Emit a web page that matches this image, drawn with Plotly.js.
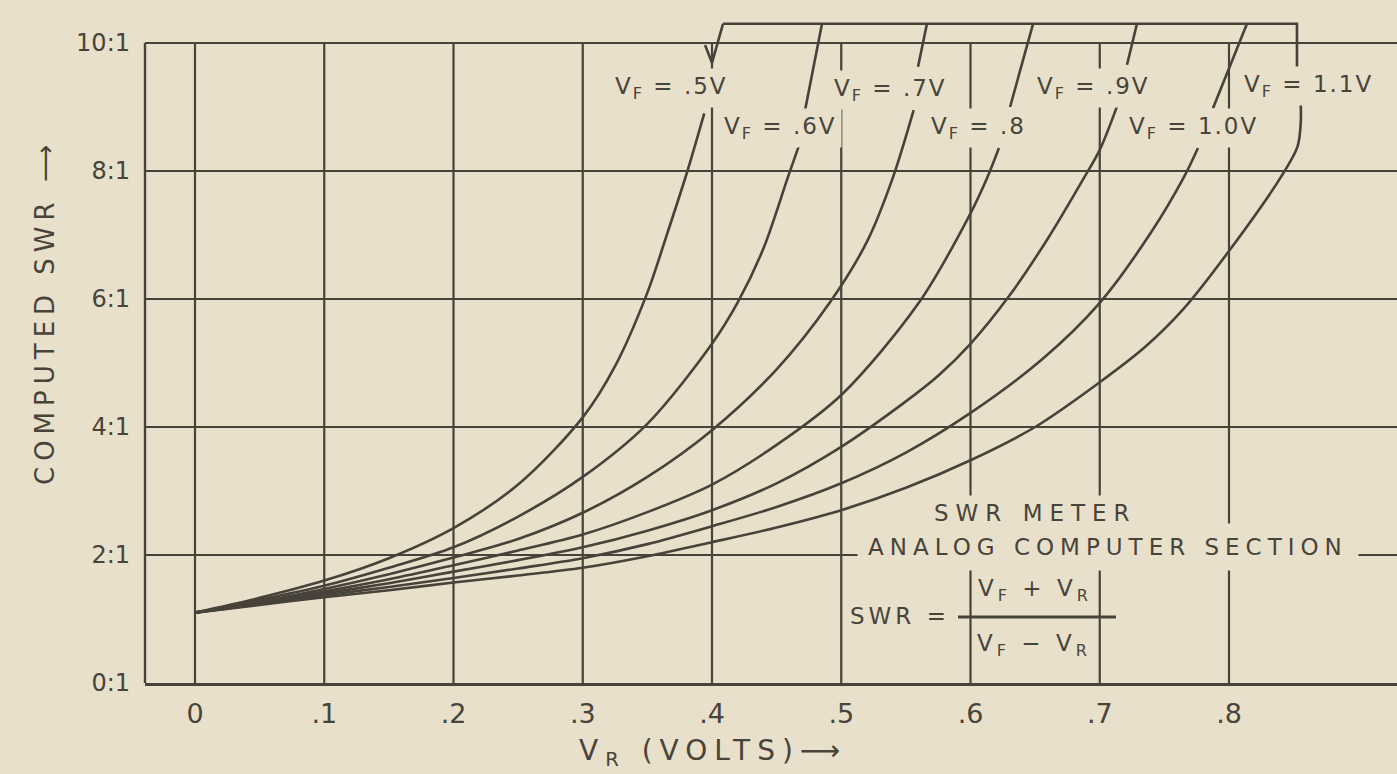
<!DOCTYPE html>
<html><head><meta charset="utf-8">
<script src="https://cdn.plot.ly/plotly-3.0.1.min.js"></script>
<style>
html,body{margin:0;padding:0;background:#e8e0ca;}
#chart{width:1397px;height:774px;}
</style></head><body><div id="chart"></div>
<script>
// ---------- data ----------
const xTickVals = [0, 0.1, 0.2, 0.3, 0.4, 0.5, 0.6, 0.7, 0.8];
const xTickText = ['0', '.1', '.2', '.3', '.4', '.5', '.6', '.7', '.8'];
const yTickVals = [0, 2, 4, 6, 8, 10];
const yTickText = ['0:1', '2:1', '4:1', '6:1', '8:1', '10:1'];
const vfLabels = ['.5V', '.6V', '.7V', '.8', '.9V', '1.0V', '1.1V'];

const vr_05 = [0, 0.05, 0.1, 0.15, 0.2, 0.25, 0.3, 0.325, 0.35, 0.365, 0.381, 0.394];
const swr_05 = [1.1, 1.33, 1.6, 1.95, 2.42, 3.1, 4.15, 4.95, 6.1, 7.0, 8.0, 8.9];
const vr_06 = [0, 0.05, 0.1, 0.15, 0.2, 0.25, 0.3, 0.35, 0.4, 0.42, 0.44, 0.459, 0.467];
const swr_06 = [1.1, 1.3, 1.52, 1.8, 2.12, 2.6, 3.22, 4.05, 5.3, 5.95, 6.8, 7.92, 8.38];
const vr_07 = [0, 0.05, 0.1, 0.15, 0.2, 0.25, 0.3, 0.35, 0.4, 0.45, 0.491, 0.52, 0.54, 0.556];
const swr_07 = [1.1, 1.27, 1.47, 1.7, 1.96, 2.25, 2.66, 3.22, 3.95, 4.9, 5.94, 6.9, 7.9, 8.95];
const vr_08 = [0, 0.05, 0.1, 0.15, 0.2, 0.25, 0.3, 0.35, 0.4, 0.45, 0.5, 0.56, 0.599, 0.613, 0.622];
const swr_08 = [1.1, 1.25, 1.43, 1.62, 1.84, 2.07, 2.32, 2.67, 3.1, 3.72, 4.5, 5.94, 7.3, 7.9, 8.36];
const vr_09 = [0, 0.05, 0.1, 0.15, 0.2, 0.25, 0.3, 0.35, 0.4, 0.45, 0.5, 0.55, 0.575, 0.6, 0.63, 0.66, 0.688, 0.7, 0.715];
const swr_09 = [1.1, 1.24, 1.4, 1.56, 1.74, 1.92, 2.12, 2.38, 2.7, 3.12, 3.69, 4.4, 4.8, 5.3, 6.05, 6.95, 7.9, 8.33, 9.1];
const vr_10 = [0, 0.05, 0.1, 0.15, 0.2, 0.25, 0.3, 0.35, 0.4, 0.45, 0.5, 0.55, 0.6, 0.655, 0.7, 0.74, 0.765, 0.776];
const swr_10 = [1.1, 1.23, 1.37, 1.5, 1.64, 1.79, 1.95, 2.17, 2.45, 2.75, 3.12, 3.6, 4.22, 5.05, 5.94, 7.05, 7.9, 8.36];
const vr_11 = [0, 0.05, 0.1, 0.15, 0.2, 0.25, 0.3, 0.35, 0.4, 0.45, 0.5, 0.55, 0.6, 0.65, 0.7, 0.735, 0.765, 0.8, 0.84, 0.853, 0.8555, 0.8555];
const swr_11 = [1.1, 1.22, 1.34, 1.45, 1.57, 1.68, 1.8, 1.98, 2.2, 2.43, 2.7, 3.05, 3.48, 4.0, 4.7, 5.25, 5.85, 6.75, 7.9, 8.38, 8.75, 9.05];

// leader strokes above the labels, and the top bracket
const lead_05_x = [0.3946, 0.4, 0.4085];   const lead_05_y = [9.97, 9.69, 10.3];
const lead_06_x = [0.472, 0.4851];         const lead_06_y = [8.95, 10.3];
const lead_07_x = [0.5594, 0.5663];        const lead_07_y = [9.63, 10.3];
const lead_08_x = [0.6306, 0.6484];        const lead_08_y = [9.0, 10.3];
const lead_09_x = [0.7211, 0.7288];        const lead_09_y = [9.66, 10.3];
const lead_10_x = [0.7876, 0.8139];        const lead_10_y = [8.98, 10.3];
const bracket_x = [0.4085, 0.8526, 0.8526]; const bracket_y = [10.3, 10.3, 9.58];

// ---------- styling ----------
const BG = '#e8e0ca';
const INK = '#47423a';
const TXT = '#49443a';
const FONT = 'DejaVu Sans, sans-serif';

// pixel -> data / paper helpers (for placing text only)
const px2x = px => (px - 195) / 1292.5;
const py2y = py => (683 - py) / 64;
const px2p = px => (px - 145) / 1252;
const py2p = py => (683 - py) / 683;
const sp = (t, n) => `<span style="letter-spacing:${n}px">${t}</span>`;

const curves = [[vr_05, swr_05], [vr_06, swr_06], [vr_07, swr_07], [vr_08, swr_08],
                [vr_09, swr_09], [vr_10, swr_10], [vr_11, swr_11]];
const leaders = [[lead_05_x, lead_05_y], [lead_06_x, lead_06_y], [lead_07_x, lead_07_y],
                 [lead_08_x, lead_08_y], [lead_09_x, lead_09_y], [lead_10_x, lead_10_y],
                 [bracket_x, bracket_y]];

const traces = [];
curves.forEach(([x, y], i) => traces.push({
  type: 'scatter', mode: 'lines', x: x, y: y, name: 'VF=' + vfLabels[i],
  line: {color: INK, width: 2.6, shape: 'spline', smoothing: 0.9},
  hoverinfo: 'skip'
}));
leaders.forEach(([x, y]) => traces.push({
  type: 'scatter', mode: 'lines', x: x, y: y, showlegend: false,
  line: {color: INK, width: 2.6}, hoverinfo: 'skip'
}));

const shapes = xTickVals.map(v => ({
  type: 'line', xref: 'x', yref: 'y', x0: v, x1: v, y0: 0, y1: 10,
  line: {color: INK, width: 2.2}, layer: 'below'
}));
shapes.push({type: 'line', xref: 'paper', yref: 'y', x0: 0, x1: 0, y0: 0, y1: 10,
  line: {color: INK, width: 2.4}});
// fraction bar
shapes.push({type: 'line', xref: 'x', yref: 'y', x0: px2x(958), x1: px2x(1116),
  y0: py2y(617), y1: py2y(617), line: {color: INK, width: 3}});

const labelPos = [[671, 88], [780, 128], [890, 90], [978, 128], [1093, 88], [1193, 128], [1308, 86]];
const annotations = [];
vfLabels.forEach((lab, i) => annotations.push({
  x: px2x(labelPos[i][0]), y: py2y(labelPos[i][1]), xref: 'x', yref: 'y',
  text: sp('V<sub>F</sub> = ' + lab, 2), showarrow: false,
  font: {family: FONT, size: 23, color: TXT}, bgcolor: BG, borderpad: 4,
  xanchor: 'center', yanchor: 'middle'
}));
const addText = (t, px, py, size, ls, extra) => annotations.push(Object.assign({
  x: px2x(px), y: py2y(py), xref: 'x', yref: 'y', text: sp(t, ls), showarrow: false,
  font: {family: FONT, size: size, color: TXT}, bgcolor: BG, borderpad: 4,
  xanchor: 'center', yanchor: 'middle'
}, extra || {}));
addText('SWR METER', 1035, 513, 23, 7);
addText('ANALOG COMPUTER SECTION', 1108, 547, 23, 6, {borderpad: 10});
addText('SWR =', 900, 616, 23, 4, {borderpad: 1});
addText('V<sub>F</sub> + V<sub>R</sub>', 1035, 590, 23, 4);
addText('V<sub>F</sub> − V<sub>R</sub>', 1034, 645, 23, 4);
// axis titles, placed in paper coordinates (outside the plotting area)
annotations.push({
  x: px2p(45), y: py2p(312), xref: 'paper', yref: 'paper', text: sp('COMPUTED SWR ⟶', 6),
  textangle: -90, showarrow: false, font: {family: FONT, size: 26, color: TXT},
  xanchor: 'center', yanchor: 'middle'
});
annotations.push({
  x: px2p(713), y: py2p(752), xref: 'paper', yref: 'paper', text: sp('V<sub>R</sub> (VOLTS)⟶', 7),
  showarrow: false, font: {family: FONT, size: 28, color: TXT},
  xanchor: 'center', yanchor: 'middle'
});

const layout = {
  width: 1397, height: 774,
  paper_bgcolor: BG, plot_bgcolor: BG,
  margin: {l: 145, r: 0, t: 0, b: 91, pad: 0},
  showlegend: false,
  xaxis: {
    range: [px2x(145), px2x(1397)], tickmode: 'array', tickvals: xTickVals, ticktext: xTickText,
    showgrid: false, zeroline: false, showline: true, linecolor: INK, linewidth: 2.6,
    ticks: '', ticklabelstandoff: 5,
    tickfont: {family: FONT, size: 27, color: TXT}, fixedrange: true
  },
  yaxis: {
    range: [0, 683 / 64], tickmode: 'array', tickvals: yTickVals, ticktext: yTickText,
    showgrid: true, gridcolor: INK, gridwidth: 2.2, zeroline: false, showline: false,
    ticks: '', ticklabelstandoff: 14,
    tickfont: {family: FONT, size: 24, color: TXT}, fixedrange: true
  },
  shapes: shapes,
  annotations: annotations
};

Plotly.newPlot('chart', traces, layout, {displayModeBar: false, staticPlot: true});
</script></body></html>
